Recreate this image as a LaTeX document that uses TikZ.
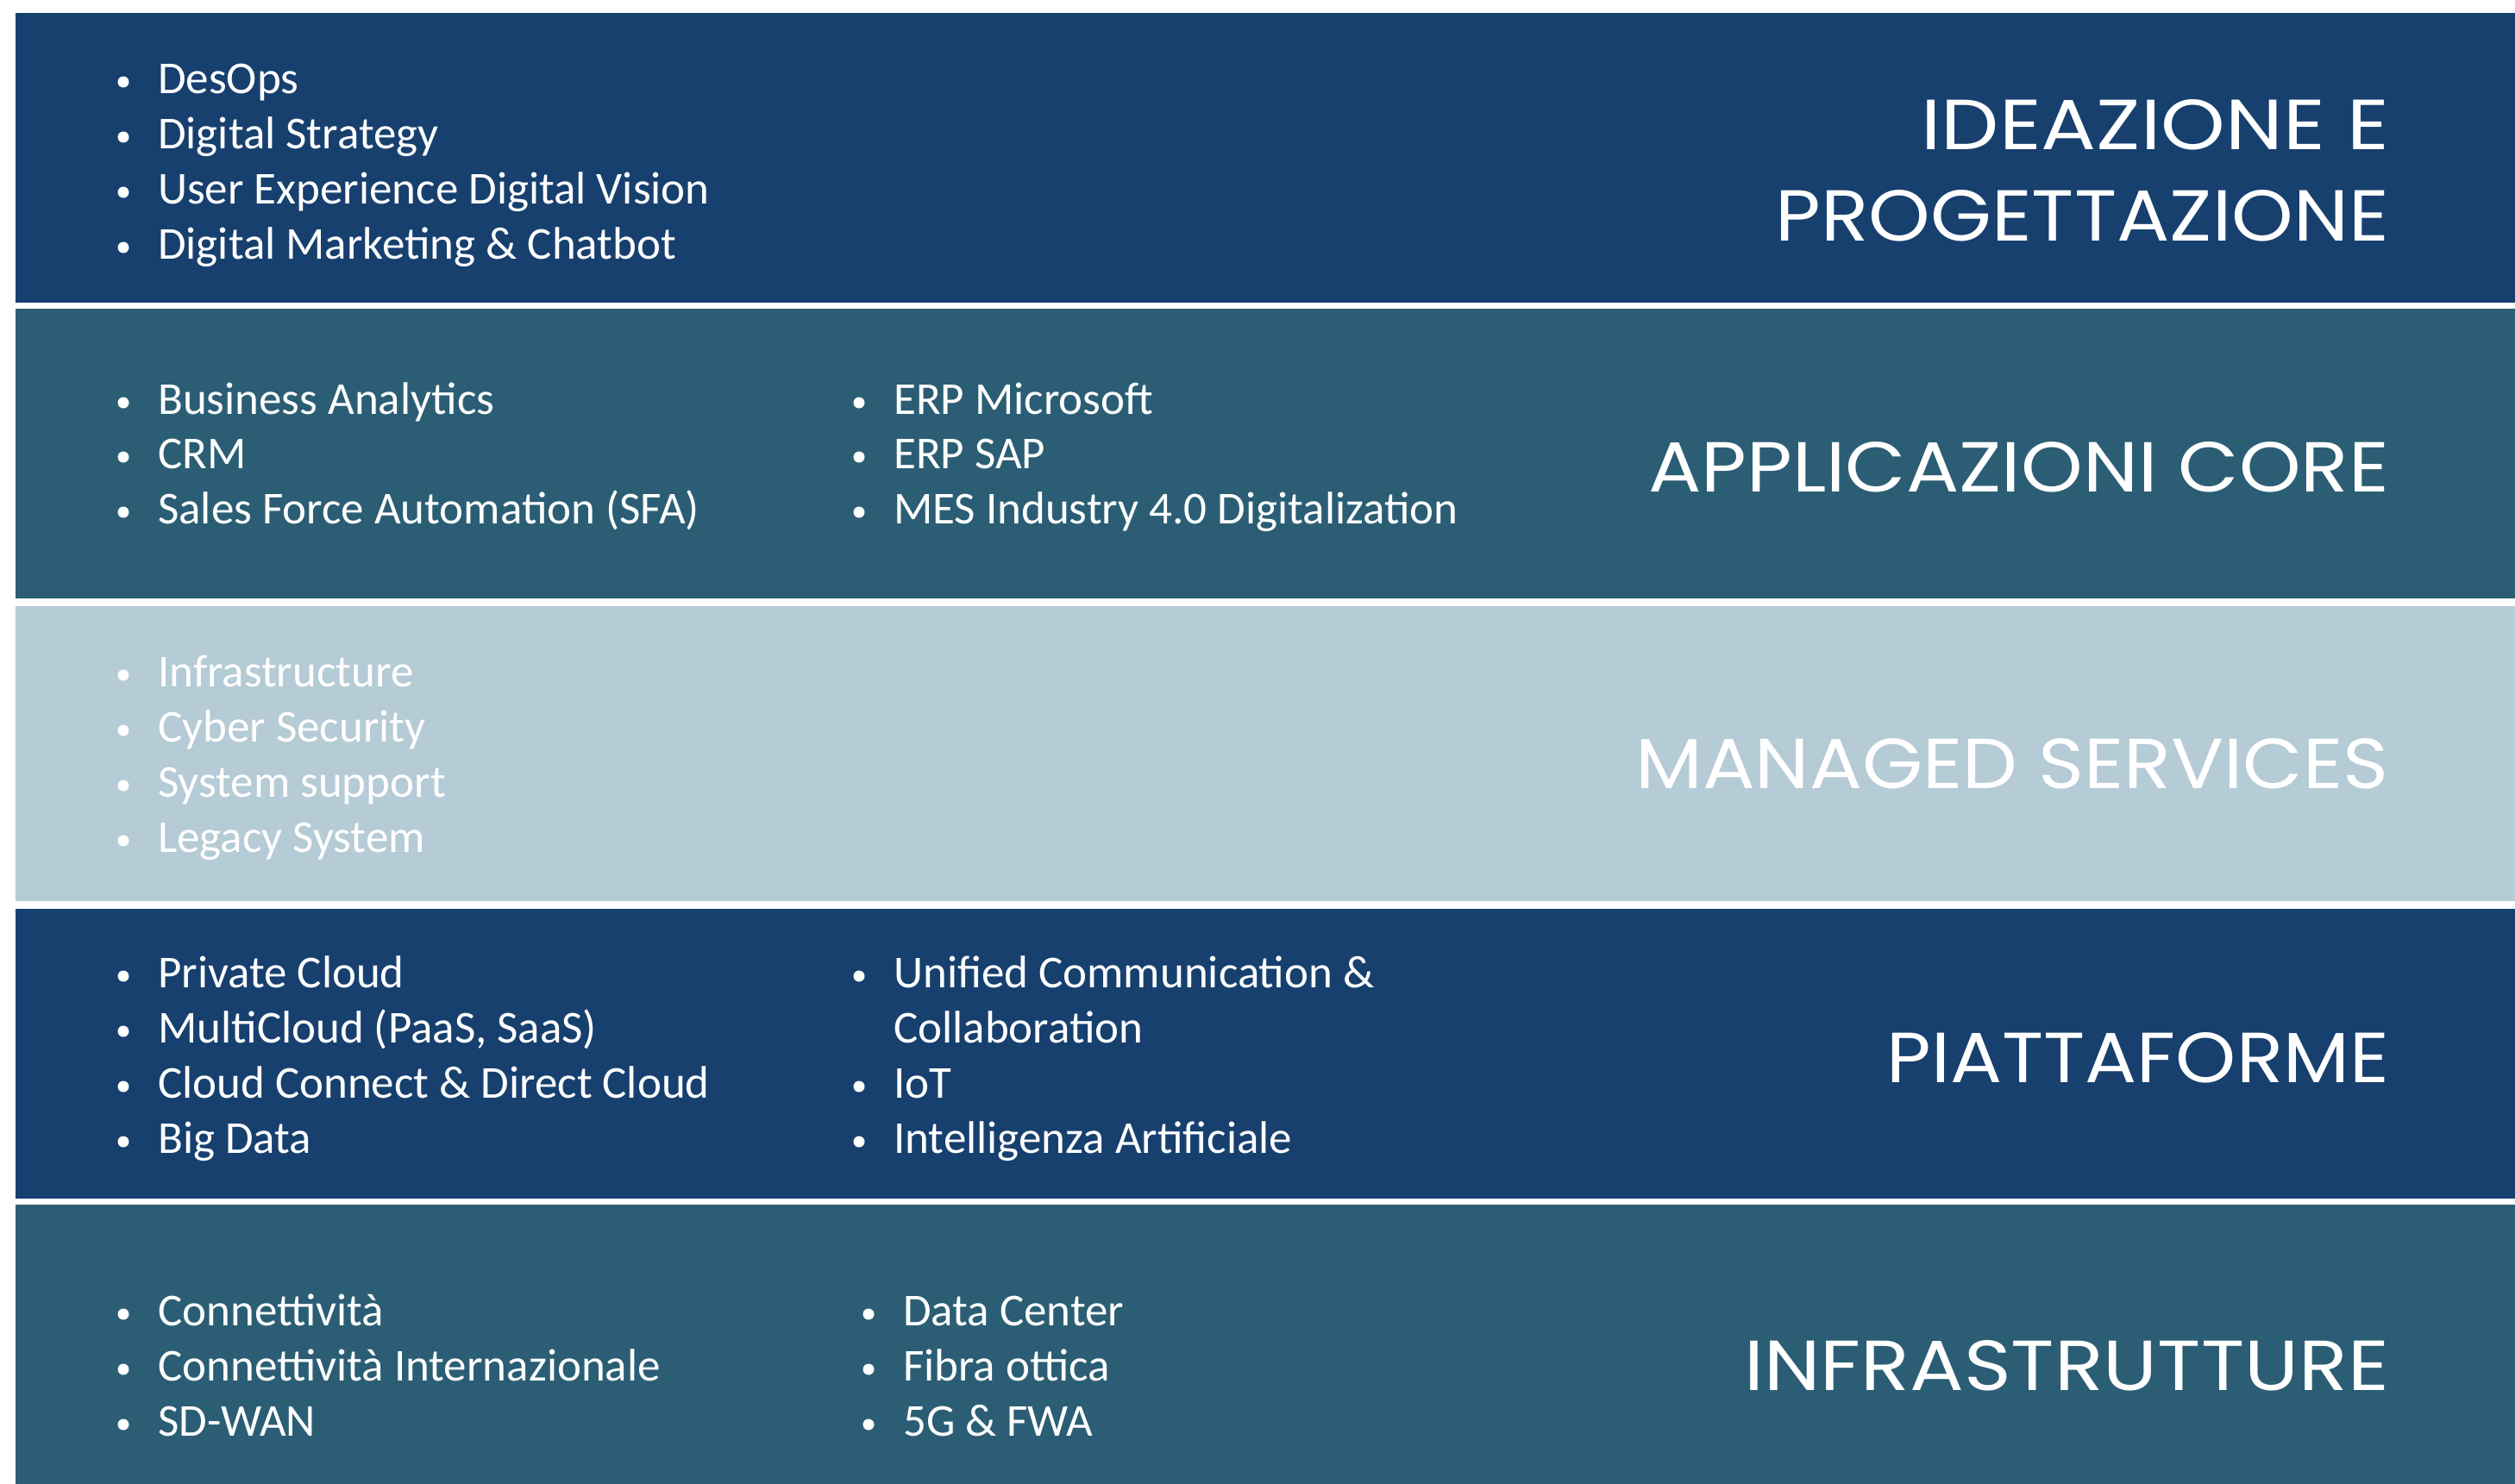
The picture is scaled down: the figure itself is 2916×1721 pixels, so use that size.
\documentclass[tikz,border=0pt]{standalone}
\usepackage{fontspec}
\setmainfont{Carlito}
\newfontfamily\ttlfont{Poppins}
\definecolor{bandblue}{RGB}{23,64,111}
\definecolor{bandteal}{RGB}{43,94,116}
\definecolor{bandlight}{RGB}{181,203,213}
\tikzset{
  band/.style={fill=#1, draw=none},
  itemtxt/.style={anchor=base west, inner sep=0pt, text=white, font=\fontsize{53}{64}\selectfont},
  ttl/.style={anchor=base east, inner sep=0pt, text=white},
}
\newcommand{\itm}[4]{%
  \fill[white] (#2-40,#3-13) circle (6.5);
  \node[itemtxt] (#1) at (#2,#3) {#4};
}
\newcommand{\ttltext}[3]{\resizebox{#1pt}{#2pt}{\ttlfont #3}}
\begin{document}
\begin{tikzpicture}[x=1pt,y=-1pt]
\useasboundingbox (0,0) rectangle (2916,1721);
\fill[white] (0,0) rectangle (2916,1721);
% bands
\path[band=bandblue]  (18,15)   rectangle (2916,351);
\path[band=bandteal]  (18,358)  rectangle (2916,694);
\path[band=bandlight] (18,703)  rectangle (2916,1045);
\path[band=bandblue]  (18,1054) rectangle (2916,1390);
\path[band=bandteal]  (18,1397) rectangle (2916,1721);
% band 1
\itm{a1}{183}{108}{DesOps}
\itm{a2}{183}{172}{Digital Strategy}
\itm{a3}{183}{236}{User Experience Digital Vision}
\itm{a4}{183}{300}{Digital Marketing \& Chatbot}
\node[ttl] (t1a) at (2770,173) {\ttltext{542}{58}{IDEAZIONE E}};
\node[ttl] (t1b) at (2770,279) {\ttltext{711}{59}{PROGETTAZIONE}};
% band 2
\itm{b1}{183}{480}{Business Analytics}
\itm{b2}{183}{543}{CRM}
\itm{b3}{183}{607}{Sales Force Automation (SFA)}
\itm{b4}{1036}{480}{ERP Microsoft}
\itm{b5}{1036}{543}{ERP SAP}
\itm{b6}{1036}{607}{MES Industry 4.0 Digitalization}
\node[ttl] (t2) at (2770,570) {\ttltext{858}{58}{APPLICAZIONI CORE}};
% band 3
\itm{c1}{183}{796}{Infrastructure}
\itm{c2}{183}{860}{Cyber Security}
\itm{c3}{183}{924}{System support}
\itm{c4}{183}{988}{Legacy System}
\node[ttl] (t3) at (2770,914) {\ttltext{873}{58}{MANAGED SERVICES}};
% band 4
\itm{d1}{183}{1145}{Private Cloud}
\itm{d2}{183}{1209}{MultiCloud (PaaS, SaaS)}
\itm{d3}{183}{1273}{Cloud Connect \& Direct Cloud}
\itm{d4}{183}{1337}{Big Data}
\itm{d5}{1036}{1145}{Unified Communication \&}
\node[itemtxt] (d5b) at (1036,1209) {Collaboration};
\itm{d6}{1036}{1273}{IoT}
\itm{d7}{1036}{1337}{Intelligenza Artificiale}
\node[ttl] (t4) at (2770,1255) {\ttltext{582}{58}{PIATTAFORME}};
% band 5
\itm{e1}{183}{1537}{Connettività}
\itm{e2}{183}{1601}{Connettività Internazionale}
\itm{e3}{183}{1665}{SD-WAN}
\itm{e4}{1047}{1537}{Data Center}
\itm{e5}{1047}{1601}{Fibra ottica}
\itm{e6}{1047}{1665}{5G \& FWA}
\node[ttl] (t5) at (2770,1612) {\ttltext{747}{58}{INFRASTRUTTURE}};
\end{tikzpicture}
\end{document}
